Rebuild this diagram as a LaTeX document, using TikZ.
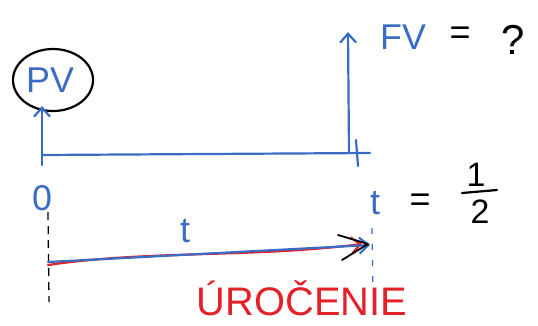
\documentclass[tikz,border=0pt]{standalone}
\usepackage{fontspec}
\setmainfont{Liberation Sans}
\usetikzlibrary{arrows.meta,shapes.geometric}
\definecolor{inkblue}{RGB}{58,108,196}
\definecolor{inkred}{RGB}{228,32,40}
\tikzset{
  bl/.style={draw=inkblue,line width=2.2bp,line cap=round},
  rd/.style={draw=inkred,line width=2.2bp,line cap=round},
  bk/.style={draw=black,line width=2.2bp,line cap=round,line join=round},
  arr/.style={-{Straight Barb[length=9bp,width=16bp]}},
  lbl/.style={inner sep=0pt,font=\fontsize{36}{36}\selectfont},
  sml/.style={inner sep=0pt,font=\fontsize{34}{34}\selectfont},
}
\begin{document}
\begin{tikzpicture}[x=1bp,y=-1bp]
\useasboundingbox (0,0) rectangle (538,325);
% timeline
\coordinate (L0) at (42,155);
\coordinate (R0) at (370,153);
\coordinate (Rt) at (356,140);
\coordinate (Rb) at (358,166);
\coordinate (Lb) at (42,165);
\coordinate (Ltop) at (42,106);
\coordinate (FVtop) at (348,32);
\coordinate (FVbot) at (349,153);
\draw[bl] (L0) -- (R0);
\draw[bl] (Rt) -- (Rb);
\node[ellipse,draw=black,line width=2.2bp,minimum width=80bp,minimum height=62bp] (pv) at (53,80) {};
\node[lbl,text=inkblue] (pvt) at (50,80) {PV};
\draw[bl,arr] (Lb) -- (Ltop);
\draw[bl,arr] (FVbot) -- (FVtop);
\node[lbl,text=inkblue,anchor=west] (fv) at (380,37) {FV};
\node[lbl] (eq1) at (460,36) {=};
\node[inner sep=0pt,font=\fontsize{42}{42}\selectfont] (qm) at (513,40) {?};
% time labels
\node[lbl,text=inkblue] (zero) at (42,198) {0};
\node[lbl,text=inkblue] (tt) at (375,203) {t};
\node[lbl] (eq2) at (420,203) {=};
\node[sml] (num) at (476,175) {1};
\node[sml] (den) at (480,212) {2};
\draw[bk] (462,193) -- (497,190);
% dashed guides
\coordinate (d1a) at (48,212);
\coordinate (d1b) at (49,302);
\coordinate (d2a) at (372,228);
\coordinate (d2b) at (373,292);
\draw[black,line width=1.3bp,dash pattern=on 8bp off 6bp] (d1a) -- (d1b);
\draw[inkblue,line width=1.3bp,dash pattern=on 6bp off 10bp] (d2a) -- (d2b);
% interest arrows
\coordinate (a0) at (48,265);
\coordinate (a1) at (362,244);
\coordinate (b0) at (48,262);
\coordinate (b1) at (370,245);
\coordinate (k0) at (338,235);
\coordinate (k1) at (368,244);
\coordinate (k2) at (342,260);
\draw[rd,arr] (a0) .. controls (150,250) and (250,258) .. (a1);
\draw[bl,arr] (b0) -- (b1);
\draw[bk,line width=1.8bp] (k0) -- (k1) -- (k2);
\node[lbl,text=inkblue] (tlab) at (185,231) {t};
\node[inner sep=0pt,text=inkred,font=\fontsize{40}{40}\selectfont] (uro) at (302,298) {ÚROČENIE};
\end{tikzpicture}
\end{document}
